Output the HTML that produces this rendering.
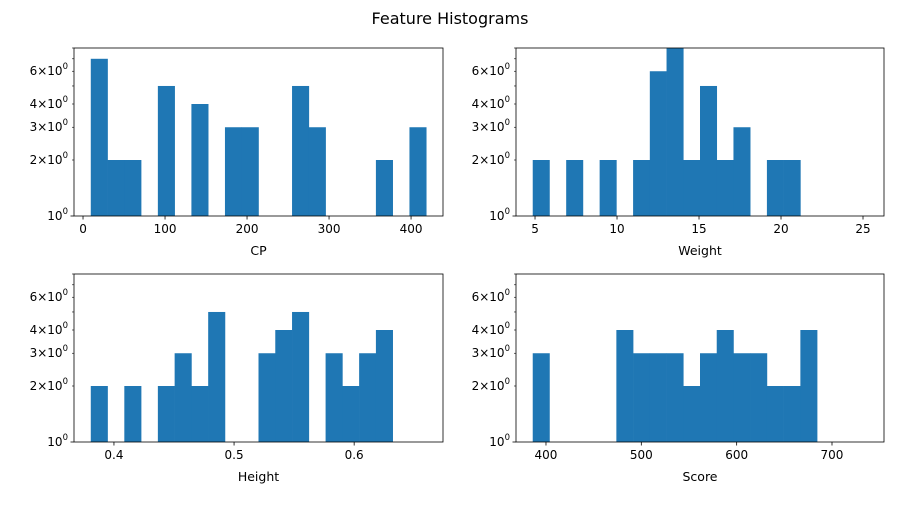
<!DOCTYPE html>
<html><head><meta charset="utf-8"><style>
body{margin:0;background:#fff;font-family:"Liberation Sans","DejaVu Sans",sans-serif;}
svg text{font-family:"DejaVu Sans","Liberation Sans",sans-serif;fill:#000}
</style></head><body>
<svg id="fig" width="900" height="500" viewBox="0 0 900 500" xmlns="http://www.w3.org/2000/svg">
<rect width="900" height="500" fill="#fff"/>
<text x="450" y="24" text-anchor="middle" font-size="16">Feature Histograms</text>
</svg>
<script>
const cpCounts=[7,2,2,0,5,0,4,0,3,3,0,0,5,3,0,0,0,2,0,3];
const weightCounts=[2,0,2,0,2,0,2,6,8,2,5,2,3,0,2,2,0,0,0,1];
const heightCounts=[2,0,2,0,2,3,2,5,0,0,3,4,5,0,3,2,3,4,0,1];
const scoreCounts=[3,0,0,0,0,4,3,3,3,2,3,4,3,3,2,2,4,0,0,1];
const cpRange=[9.45,418.5];
const weightRange=[4.86,25.26];
const heightRange=[0.3807,0.660];
const scoreRange=[386.1,737];
const cpTicks=[0,100,200,300,400];
const weightTicks=[5,10,15,20,25];
const heightTicks=[0.4,0.5,0.6];
const scoreTicks=[400,500,600,700];
const yMajorTicks=[2,3,4,6];
const yMinorTicks=[5,7,8];
const yMax=8;

const NS="http://www.w3.org/2000/svg";
const svg=document.getElementById('fig');
function mk(tag,attrs,parent){const e=document.createElementNS(NS,tag);for(const k in attrs)e.setAttribute(k,attrs[k]);(parent||svg).appendChild(e);return e;}

function panel(name,x0,x1,y0,y1,counts,range,ticks,label,fmt){
  const g=mk('g',{});
  
  
  const lo=range[0],hi=range[1],span=hi-lo;
  const dlo=lo-0.05*span,dhi=hi+0.05*span;
  const xs=v=>x0+(v-dlo)/(dhi-dlo)*(x1-x0);
  const ys=v=>y1-Math.log10(v)/Math.log10(yMax)*(y1-y0);
  const bw=span/counts.length;
  counts.forEach((c,i)=>{
    if(c<=1)return;
    const a=xs(lo+i*bw),b=xs(lo+(i+1)*bw);
    const r=mk('rect',{x:a,y:ys(c),width:b-a+0.3,height:y1-ys(c),fill:'#1f77b4'},g);
    
    
  });
  mk('rect',{x:x0,y:y0,width:x1-x0,height:y1-y0,fill:'none',stroke:'#000','stroke-width':0.8},g);
  ticks.forEach(t=>{
    const x=xs(t);
    mk('line',{x1:x,x2:x,y1:y1,y2:y1+3.5,stroke:'#000','stroke-width':0.8},g);
    const tx=mk('text',{x:x,y:y1+17,'text-anchor':'middle','font-size':12},g);
    tx.textContent=fmt(t);
    
    
  });
  const xl=mk('text',{x:(x0+x1)/2,y:y1+39,'text-anchor':'middle','font-size':12.5},g);
  xl.textContent=label;
  
  
  mk('line',{x1:x0-3.5,x2:x0,y1:y1,y2:y1,stroke:'#000','stroke-width':0.8},g);
  const t0=mk('text',{x:x0-6,y:y1+4,'text-anchor':'end','font-size':12},g);
  t0.innerHTML='10<tspan dy="-6" font-size="8.5">0</tspan>';
  
  
  yMajorTicks.forEach(v=>{
    const y=ys(v);
    mk('line',{x1:x0-2,x2:x0,y1:y,y2:y,stroke:'#000','stroke-width':0.6},g);
    const t=mk('text',{x:x0-6,y:y+4,'text-anchor':'end','font-size':12},g);
    t.innerHTML=v+'×10<tspan dy="-6" font-size="8.5">0</tspan>';
    
    
  });
  yMinorTicks.forEach(v=>{
    const y=ys(v);
    mk('line',{x1:x0-2,x2:x0,y1:y,y2:y,stroke:'#000','stroke-width':0.6},g);
  });
}
const intf=t=>String(t);
panel('cp',74,443,48,216,cpCounts,cpRange,cpTicks,'CP',intf);
panel('weight',516,884,48,216,weightCounts,weightRange,weightTicks,'Weight',intf);
panel('height',74,443,274,442,heightCounts,heightRange,heightTicks,'Height',t=>t.toFixed(1));
panel('score',516,884,274,442,scoreCounts,scoreRange,scoreTicks,'Score',intf);
</script>
</body></html>
